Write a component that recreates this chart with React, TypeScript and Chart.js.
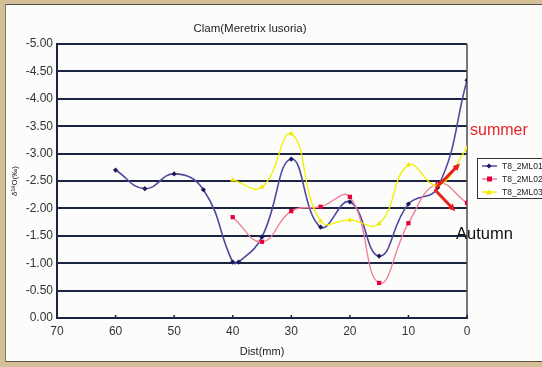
import React, { useEffect, useRef } from "react";
import { Chart, registerables } from "chart.js";

Chart.register(...registerables);

const chartTitle = "Clam(Meretrix lusoria)";
const xTitle = "Dist(mm)";
const yTitle = "δ¹⁸O(‰)";
const seriesNames = ["T8_2ML01", "T8_2ML02", "T8_2ML03"];
const seriesLine = ["#4f4aa0", "#f07a9a", "#f2f000"];
const seriesMarker = ["#1b1a5c", "#e8003a", "#f2e800"];

const dist01 = [60, 55, 50, 45, 40, 39, 35, 30, 25, 20, 15, 10, 5, 0];
const d18O01 = [-2.7, -2.36, -2.63, -2.34, -1.02, -1.02, -1.48, -2.9, -1.66, -2.12, -1.13, -2.08, -2.38, -4.34];

const dist02 = [40, 35, 30, 25, 20, 15, 10, 5, 0];
const d18O02 = [-1.84, -1.39, -1.95, -2.03, -2.21, -0.64, -1.73, -2.45, -2.1];

const dist03 = [40, 35, 30, 25, 20, 15, 10, 5, 0];
const d18O03 = [-2.52, -2.39, -3.36, -1.77, -1.79, -1.72, -2.79, -2.42, -3.1];

const xTickValues = [70, 60, 50, 40, 30, 20, 10, 0];
const yMin = -5;
const yMax = 0;
const yStep = 0.5;

const noteLabels = ["summer", "Autumn"];
const arrowNotes = [
  { from: [5.2, -2.38], to: [1.2, -2.82] },
  { from: [5.4, -2.33], to: [2.0, -1.95] },
];

const FONT = "'Liberation Sans', Arial, sans-serif";

function toPoints(xs: number[], ys: number[]) {
  return xs.map((x, i) => ({ x, y: ys[i] }));
}

const extrasPlugin = {
  id: "extras",
  beforeDatasetsDraw(chart: any) {
    const { ctx, chartArea, scales } = chart;
    ctx.save();
    // right frame line
    ctx.strokeStyle = "#4a4a4a";
    ctx.lineWidth = 1.5;
    ctx.beginPath();
    ctx.moveTo(chartArea.right, chartArea.top);
    ctx.lineTo(chartArea.right, chartArea.bottom);
    ctx.stroke();
    // inward tick marks on x axis
    ctx.strokeStyle = "#1d2545";
    ctx.lineWidth = 1.5;
    xTickValues.forEach((v) => {
      const px = scales.x.getPixelForValue(v);
      ctx.beginPath();
      ctx.moveTo(px, chartArea.bottom);
      ctx.lineTo(px, chartArea.bottom - 3);
      ctx.stroke();
    });
    ctx.restore();
  },
  afterDatasetsDraw(chart: any) {
    const { ctx, scales } = chart;
    ctx.save();
    ctx.strokeStyle = "#e8201e";
    ctx.fillStyle = "#e8201e";
    ctx.lineWidth = 3;
    ctx.lineCap = "round";
    arrowNotes.forEach((a) => {
      const x1 = scales.x.getPixelForValue(a.from[0]);
      const y1 = scales.y.getPixelForValue(a.from[1]);
      const x2 = scales.x.getPixelForValue(a.to[0]);
      const y2 = scales.y.getPixelForValue(a.to[1]);
      const ang = Math.atan2(y2 - y1, x2 - x1);
      ctx.beginPath();
      ctx.moveTo(x1, y1);
      ctx.lineTo(x2 - 4 * Math.cos(ang), y2 - 4 * Math.sin(ang));
      ctx.stroke();
      const h = 8;
      ctx.beginPath();
      ctx.moveTo(x2, y2);
      ctx.lineTo(x2 - h * Math.cos(ang - 0.45), y2 - h * Math.sin(ang - 0.45));
      ctx.lineTo(x2 - h * Math.cos(ang + 0.45), y2 - h * Math.sin(ang + 0.45));
      ctx.closePath();
      ctx.fill();
    });
    ctx.restore();
  },
};

function LegendMarker({ i }: { i: number }) {
  const c = seriesMarker[i];
  let shape;
  if (i === 0) shape = <polygon points="8,1.5 10.5,4 8,6.5 5.5,4" fill={c} />;
  else if (i === 1) shape = <rect x={6} y={1.5} width={5} height={5} fill={c} />;
  else shape = <polygon points="8,1 11,6.5 5,6.5" fill={c} />;
  return (
    <svg width={17} height={8} style={{ display: "block", marginRight: 4 }}>
      <line x1={1} y1={4} x2={16} y2={4} stroke={seriesLine[i]} strokeWidth={1.5} />
      {shape}
    </svg>
  );
}

export default function App() {
  const canvasRef = useRef<HTMLCanvasElement | null>(null);

  useEffect(() => {
    const canvas = canvasRef.current;
    if (!canvas) return;
    const mk = (i: number, xs: number[], ys: number[], style: any, r: number, bw: number) => ({
      label: seriesNames[i],
      data: toPoints(xs, ys),
      borderColor: seriesLine[i],
      backgroundColor: seriesMarker[i],
      pointBackgroundColor: seriesMarker[i],
      pointBorderColor: seriesMarker[i],
      pointStyle: style,
      pointRadius: r,
      pointBorderWidth: 0,
      borderWidth: bw,
      tension: 0.45,
      fill: false,
    });
    const chart = new Chart(canvas, {
      type: "line",
      data: {
        datasets: [
          mk(2, dist03, d18O03, "triangle", 3, 1.3),
          mk(1, dist02, d18O02, "rect", 3, 1.3),
          mk(0, dist01, d18O01, "rectRot", 2.6, 1.6),
        ],
      },
      options: {
        animation: false,
        responsive: false,
        maintainAspectRatio: false,
        layout: { padding: { left: 0, right: 75, top: 44, bottom: 0 } },
        plugins: {
          legend: { display: false },
          title: { display: false },
          tooltip: { enabled: false },
        },
        scales: {
          x: {
            type: "linear",
            reverse: true,
            min: 0,
            max: 70,
            afterFit: (s: any) => {
              s.height = 49;
            },
            afterBuildTicks: (s: any) => {
              s.ticks = xTickValues.map((v) => ({ value: v }));
            },
            grid: { display: false, drawTicks: false },
            border: { display: true, color: "#1d2545", width: 2 },
            ticks: {
              padding: 6,
              color: "#333",
              font: { family: FONT, size: 12 },
              maxRotation: 0,
              autoSkip: false,
            },
            title: {
              display: true,
              text: xTitle,
              color: "#222",
              font: { family: FONT, size: 11 },
              padding: { top: 0, bottom: 8 },
            },
          },
          y: {
            type: "linear",
            reverse: true,
            min: yMin,
            max: yMax,
            afterFit: (s: any) => {
              s.width = 57;
            },
            grid: { color: "#1d2545", lineWidth: 2, drawTicks: false },
            border: { display: true, color: "#1d2545", width: 2 },
            ticks: {
              stepSize: yStep,
              padding: 4,
              color: "#333",
              font: { family: FONT, size: 12 },
              callback: (v: any) => Number(v).toFixed(2),
            },
            title: {
              display: true,
              text: yTitle,
              color: "#222",
              font: { family: FONT, size: 8 },
              padding: { top: 10, bottom: 0 },
            },
          },
        },
      },
      plugins: [extrasPlugin],
    });
    return () => chart.destroy();
  }, []);

  return (
    <div
      style={{
        position: "fixed",
        left: 0,
        top: 0,
        width: 542,
        height: 367,
        background: "#d5bf98",
        overflow: "hidden",
        fontFamily: FONT,
      }}
    >
      <div
        style={{
          position: "absolute",
          left: 5,
          top: 4,
          width: 540,
          height: 358,
          background: "#fcfcfa",
          borderLeft: "1px solid #8a7a60",
          borderTop: "1px solid #5a5040",
          borderBottom: "1px solid #5a5040",
          boxSizing: "border-box",
        }}
      />
      <canvas
        ref={canvasRef}
        width={542}
        height={367}
        style={{ position: "absolute", left: 0, top: 0, width: 542, height: 367 }}
      />
      <div
        style={{
          position: "absolute",
          left: 150,
          top: 21,
          width: 200,
          textAlign: "center",
          fontSize: 11.5,
          lineHeight: "14px",
          color: "#222",
        }}
      >
        {chartTitle}
      </div>
      <div
        style={{
          position: "absolute",
          left: 470,
          top: 120,
          fontSize: 16,
          lineHeight: "20px",
          color: "#e8262a",
        }}
      >
        {noteLabels[0]}
      </div>
      <div
        style={{
          position: "absolute",
          left: 456,
          top: 222,
          fontSize: 16.5,
          lineHeight: "22px",
          color: "#111",
        }}
      >
        {noteLabels[1]}
      </div>
      <div
        style={{
          position: "absolute",
          left: 477,
          top: 158,
          width: 68,
          height: 41,
          border: "1.5px solid #333",
          background: "#fff",
          boxSizing: "border-box",
          paddingLeft: 3,
        }}
      >
        {seriesNames.map((n, i) => (
          <div
            key={n}
            style={{ display: "flex", alignItems: "center", height: 13, fontSize: 8.5, color: "#222" }}
          >
            <LegendMarker i={i} />
            <span>{n}</span>
          </div>
        ))}
      </div>
    </div>
  );
}
